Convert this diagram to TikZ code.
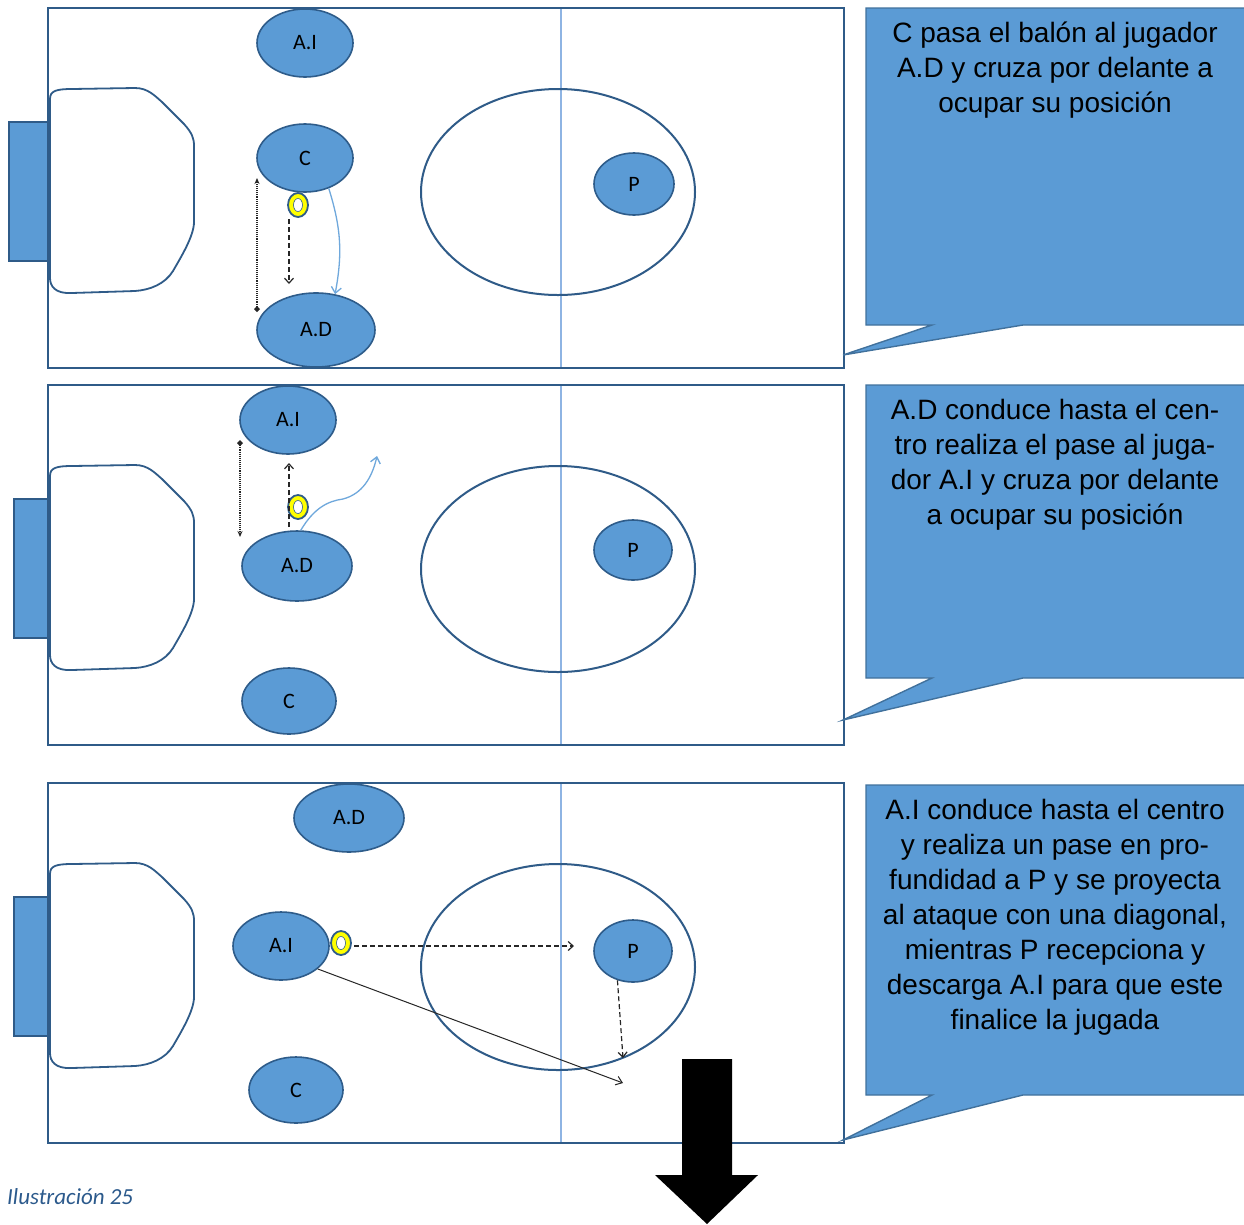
\documentclass[tikz,border=0pt]{standalone}
\usepackage{fontspec}
\usetikzlibrary{shapes.geometric,arrows.meta,calc}
\setmainfont{Liberation Sans}
\newfontfamily\labelfont{Carlito}
\definecolor{pblue}{HTML}{5B9BD5}
\definecolor{pborder}{HTML}{2E5C8A}
\definecolor{fieldline}{HTML}{2F5B88}
\definecolor{midline}{HTML}{8EB4E3}
\definecolor{callborder}{HTML}{41719C}
\definecolor{passblue}{HTML}{6FA8DC}
\definecolor{capblue}{HTML}{2C5A8C}
\definecolor{ballyellow}{HTML}{FFFF00}
\tikzset{
  field/.style={draw=fieldline, line width=2pt},
  goalbox/.style={draw=fieldline, line width=1.2pt, fill=pblue},
  area/.style={draw=fieldline, line width=1.8pt, fill=white},
  halfway/.style={draw=midline, line width=1.2pt},
  circ/.style={draw=fieldline, line width=2pt},
  player/.style={ellipse, draw=pborder, line width=1.6pt, fill=pblue, inner sep=0pt,
    font=\labelfont\fontsize{22}{26}\selectfont},
  ball/.style={ellipse, draw=pborder, line width=1.8pt, fill=ballyellow, inner sep=0pt,
    minimum width=20pt, minimum height=24pt},
  ballcore/.style={ellipse, draw=pborder, line width=0.6pt, fill=white, inner sep=0pt,
    minimum width=9pt, minimum height=13pt},
  callout/.style={draw=callborder, line width=1.4pt, fill=pblue},
  calltext/.style={align=center, inner sep=0pt, anchor=north,
    font=\fontsize{28}{35}\selectfont},
  dasharr/.style={dash pattern=on 5pt off 3pt, line width=1.2pt, black!85,
    -{Straight Barb[length=5pt,width=9pt]}},
  runline/.style={densely dotted, line width=1.1pt, black!85,
    {Diamond[length=6pt,width=6pt]}-{Stealth[length=6pt,width=5pt]}},
  passarr/.style={draw=passblue, line width=1.3pt,
    -{Straight Barb[length=6pt,width=10pt]}},
  shotarr/.style={line width=1pt, black!85,
    -{Straight Barb[length=6pt,width=9pt]}},
}
\begin{document}
\begin{tikzpicture}[x=1pt,y=-1pt]
\useasboundingbox (0,0) rectangle (1244,1224);

% ---- pitch half (drawn three times) ----
\foreach \oy/\gx in {0/9,377/14,775/14}{
  \begin{scope}[shift={(0,\oy)}]
    \fill[white] (48,8) rectangle (844,368);
    \draw[goalbox] (\gx,122) rectangle (48,261);
    \draw[area] (50,99) .. controls (50,91) and (56,89) .. (72,89) -- (135,88)
      .. controls (148,88) and (155,96) .. (162,102) -- (184,124)
      .. controls (192,133) and (194,138) .. (194,146) -- (194,222)
      .. controls (194,236) and (181,257) .. (173,271)
      .. controls (165,284) and (150,290) .. (135,291) -- (72,293)
      .. controls (55,294) and (50,286) .. (50,278) -- cycle;
    \draw[halfway] (561,8) -- (561,368);
    \draw[circ] (558,192) ellipse [x radius=137pt, y radius=103pt];
    \draw[field] (48,8) rectangle (844,368);
  \end{scope}
}

% ---- callouts ----
\draw[callout] (866,8) -- (1248,8) -- (1248,325) -- (1023,325) -- (843,355)
  -- (932,325) -- (866,325) -- cycle;
\draw[callout] (866,385) -- (1248,385) -- (1248,678) -- (1023,678) -- (843,720)
  -- (932,678) -- (866,678) -- cycle;
\draw[callout] (866,785) -- (1248,785) -- (1248,1095) -- (1023,1095) -- (843,1140)
  -- (932,1095) -- (866,1095) -- cycle;

\node[calltext] (t1) at (1055,22) {C pasa el balón al jugador\\A.D y cruza por delante a\\ocupar su posición};
\node[calltext] (t2) at (1055,399) {A.D conduce hasta el cen-\\tro realiza el pase al juga-\\dor A.I y cruza por delante\\a ocupar su posición};
\node[calltext] (t3) at (1055,799) {A.I conduce hasta el centro\\y realiza un pase en pro-\\fundidad a P y se proyecta\\al ataque con una diagonal,\\mientras P recepciona y\\descarga A.I para que este\\finalice la jugada};

% ---- first move ----
\node[player, minimum width=96pt, minimum height=68pt] (AI1) at (305,43) {A.I};
\node[player, minimum width=96pt, minimum height=68pt] (C1) at (305,158) {C};
\node[player, minimum width=118pt, minimum height=74pt] (AD1) at (316,330) {A.D};
\node[player, minimum width=80pt, minimum height=62pt] (P1) at (634,184) {P};
\node[ball] (b1) at (298,205) {};
\node[ballcore] (b1c) at (b1) {};
\coordinate (r1a) at (257,312);
\coordinate (r1b) at (257,178);
\coordinate (d1a) at (289,219);
\coordinate (d1b) at (289,284);
\draw[runline] (r1a) -- (r1b);
\draw[dasharr] (d1a) -- (d1b);
\draw[passarr] (C1.-52) to[bend left=14] (AD1.62);

% ---- second move ----
\node[player, minimum width=96pt, minimum height=68pt] (AI2) at (288,420) {A.I};
\node[player, minimum width=110pt, minimum height=70pt] (AD2) at (297,566) {A.D};
\node[player, minimum width=94pt, minimum height=66pt] (C2) at (289,701) {C};
\node[player, minimum width=78pt, minimum height=60pt] (P2) at (633,550) {P};
\node[ball] (b2) at (298,507) {};
\node[ballcore] (b2c) at (b2) {};
\coordinate (r2a) at (240,440);
\coordinate (r2b) at (240,537);
\coordinate (d2a) at (289,527);
\coordinate (d2b) at (289,463);
\coordinate (s2m) at (343,499);
\coordinate (s2e) at (377,456);
\draw[runline] (r2a) -- (r2b);
\draw[dasharr] (d2a) -- (d2b);
\draw[passarr] (AD2.84) .. controls (314,508) and (328,501) .. (s2m)
  .. controls (362,494) and (372,478) .. (s2e);

% ---- third move ----
\node[player, minimum width=110pt, minimum height=68pt] (AD3) at (349,818) {A.D};
\node[player, minimum width=96pt, minimum height=68pt] (AI3) at (281,946) {A.I};
\node[player, minimum width=94pt, minimum height=66pt] (C3) at (296,1090) {C};
\node[player, minimum width=78pt, minimum height=62pt] (P3) at (633,951) {P};
\node[ball] (b3) at (341,943) {};
\node[ballcore] (b3c) at (b3) {};
\coordinate (d3a) at (354,946);
\coordinate (d3b) at (574,946);
\coordinate (e3) at (623,1058);
\coordinate (f3) at (623,1083);
\draw[dasharr] (d3a) -- (d3b);
\draw[dasharr] (P3.-118) -- (e3);
\draw[shotarr] (AI3.-32) -- (f3);

% ---- big arrow pointing down ----
\fill[black] (682,1059) -- (732,1059) -- (732,1175) -- (758,1175) -- (707,1224)
  -- (655,1175) -- (682,1175) -- cycle;

% ---- caption ----
\node[anchor=base west, inner sep=0pt, text=capblue,
  font=\labelfont\itshape\fontsize{23}{27}\selectfont] (cap) at (7,1204) {Ilustración 25};
\end{tikzpicture}
\end{document}
